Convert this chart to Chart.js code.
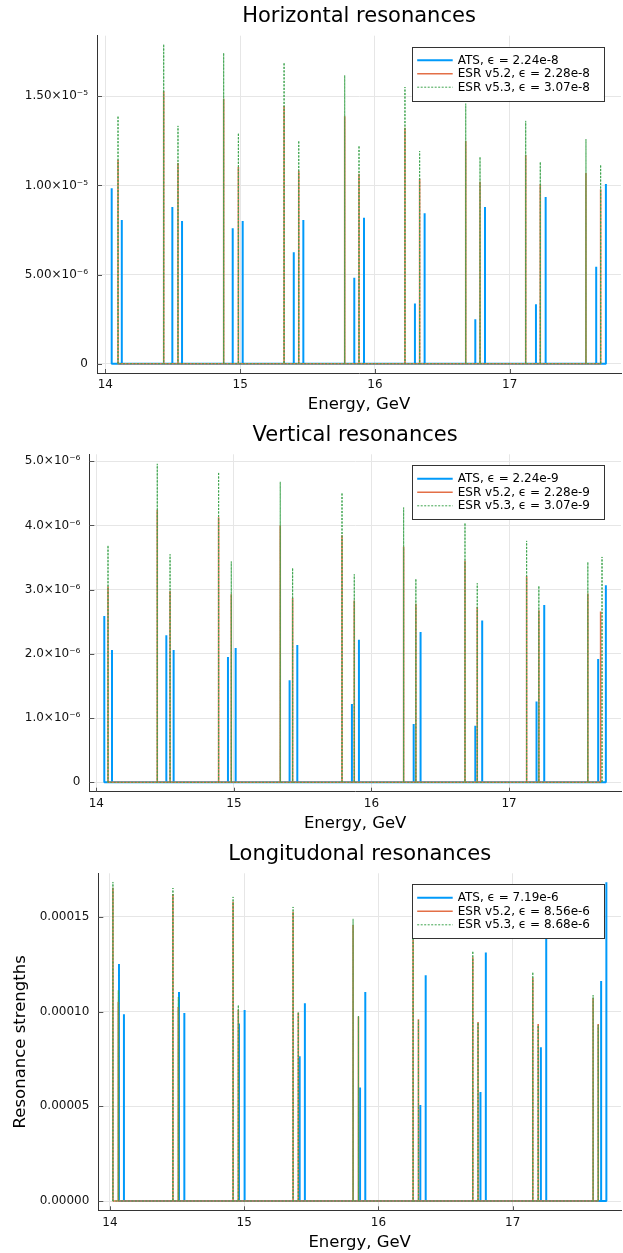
<!DOCTYPE html>
<html><head><meta charset="utf-8">
<script src="https://cdn.jsdelivr.net/npm/chart.js@4.4.0/dist/chart.umd.min.js"></script>
<style>html,body{margin:0;padding:0;background:#fff}canvas{display:block}</style>
</head><body>
<canvas id="c1" width="623" height="418" style="width:623px;height:418px"></canvas>
<canvas id="c2" width="623" height="418" style="width:623px;height:418px"></canvas>
<canvas id="c3" width="623" height="417" style="width:623px;height:417px"></canvas>
<script>
// ---------- data ----------
const X_TICKS = [14, 15, 16, 17];
const X_LABELS = ['14', '15', '16', '17'];

// Horizontal resonances
const H_ATS_E = [14.047,14.122,14.497,14.569,14.945,15.019,15.398,15.469,15.847,15.919,16.297,16.369,16.745,16.817,17.195,17.267,17.642,17.714];
const H_ATS = [9.84e-6,8.06e-6,8.79e-6,8.00e-6,7.60e-6,8.00e-6,6.25e-6,8.06e-6,4.82e-6,8.19e-6,3.37e-6,8.44e-6,2.50e-6,8.79e-6,3.33e-6,9.35e-6,5.44e-6,1.008e-5];
const H_ESR52_E = [14.094,14.433,14.539,14.878,14.987,15.326,15.435,15.776,15.882,16.223,16.332,16.674,16.780,17.119,17.227,17.566,17.675];
const H_ESR52 = [1.143e-5,1.528e-5,1.126e-5,1.487e-5,1.104e-5,1.446e-5,1.081e-5,1.388e-5,1.066e-5,1.324e-5,1.038e-5,1.249e-5,1.021e-5,1.171e-5,1.006e-5,1.070e-5,9.78e-6];
const H_ESR53_E = [14.094,14.433,14.539,14.878,14.987,15.326,15.435,15.776,15.882,16.223,16.332,16.674,16.780,17.119,17.227,17.566,17.675];
const H_ESR53 = [1.390e-5,1.792e-5,1.334e-5,1.743e-5,1.294e-5,1.689e-5,1.251e-5,1.618e-5,1.223e-5,1.552e-5,1.193e-5,1.459e-5,1.160e-5,1.362e-5,1.132e-5,1.260e-5,1.116e-5];
const H_LABELS = ['ATS, ϵ = 2.24e-8', 'ESR v5.2, ϵ = 2.28e-8', 'ESR v5.3, ϵ = 3.07e-8'];
const H_YTICKS = [0, 5e-6, 1e-5, 1.5e-5];
const H_YLABELS = ['0', '5.00×10⁻⁶', '1.00×10⁻⁵', '1.50×10⁻⁵'];

// Vertical resonances
const V_ATS_E = [14.058,14.114,14.509,14.562,14.957,15.013,15.405,15.461,15.858,15.909,16.307,16.357,16.755,16.805,17.200,17.256,17.648,17.704];
const V_ATS = [2.59e-6,2.06e-6,2.29e-6,2.06e-6,1.95e-6,2.09e-6,1.59e-6,2.14e-6,1.22e-6,2.22e-6,0.91e-6,2.34e-6,0.88e-6,2.52e-6,1.26e-6,2.76e-6,1.92e-6,3.07e-6];
const V_ESR52_E = [14.085,14.443,14.536,14.889,14.981,15.337,15.427,15.786,15.875,16.234,16.323,16.680,16.769,17.128,17.217,17.573,17.666];
const V_ESR52 = [3.05e-6,4.24e-6,2.98e-6,4.13e-6,2.93e-6,4.00e-6,2.87e-6,3.85e-6,2.83e-6,3.67e-6,2.78e-6,3.45e-6,2.73e-6,3.21e-6,2.68e-6,2.94e-6,2.66e-6];
const V_ESR53_E = [14.085,14.443,14.536,14.889,14.981,15.337,15.427,15.786,15.875,16.234,16.323,16.680,16.769,17.128,17.217,17.573,17.676];
const V_ESR53 = [3.69e-6,4.96e-6,3.55e-6,4.83e-6,3.44e-6,4.68e-6,3.34e-6,4.51e-6,3.24e-6,4.28e-6,3.17e-6,4.04e-6,3.10e-6,3.76e-6,3.06e-6,3.43e-6,3.51e-6];
const V_LABELS = ['ATS, ϵ = 2.24e-9', 'ESR v5.2, ϵ = 2.28e-9', 'ESR v5.3, ϵ = 3.07e-9'];
const V_YTICKS = [0, 1e-6, 2e-6, 3e-6, 4e-6, 5e-6];
const V_YLABELS = ['0', '1.0×10⁻⁶', '2.0×10⁻⁶', '3.0×10⁻⁶', '4.0×10⁻⁶', '5.0×10⁻⁶'];

// Longitudinal resonances
const L_ATS_E = [14.067,14.104,14.514,14.554,14.961,15.003,15.413,15.452,15.863,15.902,16.312,16.352,16.760,16.800,17.210,17.250,17.659,17.698];
const L_ATS = [1.252e-4,9.86e-5,1.104e-4,9.93e-5,9.38e-5,1.009e-4,7.64e-5,1.044e-4,6.00e-5,1.104e-4,5.07e-5,1.192e-4,5.76e-5,1.313e-4,8.12e-5,1.47e-4,1.162e-4,1.683e-4];
const L_ESR52_E = [14.022,14.062,14.469,14.509,14.917,14.956,15.364,15.403,15.811,15.851,16.258,16.298,16.703,16.742,17.150,17.190,17.599,17.637];
const L_ESR52 = [1.655e-4,1.053e-4,1.622e-4,1.025e-4,1.581e-4,1.010e-4,1.528e-4,9.95e-5,1.458e-4,9.75e-5,1.380e-4,9.60e-5,1.287e-4,9.45e-5,1.179e-4,9.35e-5,1.072e-4,9.35e-5];
const L_ESR53_E = [14.022,14.062,14.469,14.509,14.917,14.956,15.364,15.403,15.811,15.851,16.258,16.298,16.703,16.742,17.150,17.190,17.599,17.637];
const L_ESR53 = [1.685e-4,1.113e-4,1.653e-4,1.077e-4,1.606e-4,1.035e-4,1.553e-4,9.98e-5,1.490e-4,9.77e-5,1.410e-4,9.55e-5,1.320e-4,9.42e-5,1.209e-4,9.27e-5,1.088e-4,9.30e-5];
const L_LABELS = ['ATS, ϵ = 7.19e-6', 'ESR v5.2, ϵ = 8.56e-6', 'ESR v5.3, ϵ = 8.68e-6'];
const L_YTICKS = [0, 5e-5, 1e-4, 1.5e-4];
const L_YLABELS = ['0.00000', '0.00005', '0.00010', '0.00015'];

// ---------- styling ----------
const FONT = "'DejaVu Sans', sans-serif";
Chart.defaults.font.family = FONT;
const BLUE = '#009AFA', ORANGE = '#E36F47', GREEN = '#3EA44E';
const GRID = '#e6e6e6', AXIS = '#333333', TXT = '#111111';

function spikes(E, V) {
  const pts = [];
  E.forEach((e, i) => { pts.push({x: e, y: 0}, {x: e, y: V[i]}, {x: e, y: 0}); });
  return pts;
}

const deco = {
  id: 'deco',
  beforeDatasetsDraw(chart) {
    const {ctx, chartArea: a, scales: {x, y}} = chart;
    ctx.save();
    ctx.strokeStyle = '#555'; ctx.lineWidth = 1;
    x.ticks.forEach(t => {
      const px = Math.round(x.getPixelForValue(t.value)) + 0.5;
      ctx.beginPath(); ctx.moveTo(px, a.bottom); ctx.lineTo(px, a.bottom - 4); ctx.stroke();
    });
    y.ticks.forEach(t => {
      const py = Math.round(y.getPixelForValue(t.value)) + 0.5;
      ctx.beginPath(); ctx.moveTo(a.left, py); ctx.lineTo(a.left + 5, py); ctx.stroke();
    });
    ctx.restore();
  },
  afterDraw(chart, args, opts) {
    const {ctx, chartArea: a} = chart;
    ctx.save();
    // title
    ctx.fillStyle = '#000';
    ctx.font = '21px ' + FONT;
    ctx.textAlign = 'center'; ctx.textBaseline = 'alphabetic';
    ctx.fillText(opts.title, (a.left + a.right) / 2, opts.titleY);
    // legend
    const w = 192, h = 54;
    const bx = a.right - 17.3 - w, by = a.top + 11;
    ctx.fillStyle = '#fff';
    ctx.fillRect(bx, by, w, h);
    ctx.strokeStyle = AXIS; ctx.lineWidth = 1;
    ctx.strokeRect(Math.round(bx) + 0.5, Math.round(by) + 0.5, w, h);
    ctx.font = '12px ' + FONT;
    ctx.textAlign = 'left'; ctx.textBaseline = 'middle';
    chart.data.datasets.forEach((ds, i) => {
      const yy = by + 13.5 + i * 13.5;
      ctx.save();
      ctx.strokeStyle = ds.borderColor;
      ctx.lineWidth = ds.borderWidth;
      ctx.setLineDash(ds.borderDash || []);
      ctx.beginPath(); ctx.moveTo(bx + 5.5, yy); ctx.lineTo(bx + 41, yy); ctx.stroke();
      ctx.restore();
      ctx.fillStyle = '#000';
      ctx.fillText(ds.label, bx + 46, yy + 0.5);
    });
    ctx.restore();
  }
};

function makePanel(id, p) {
  const canvas = document.getElementById(id);
  const H = canvas.height;
  new Chart(canvas, {
    type: 'scatter',
    data: {
      datasets: [
        {label: p.labels[0], data: spikes(p.e0, p.v0), borderColor: BLUE, backgroundColor: BLUE, borderWidth: 2, order: 3},
        {label: p.labels[1], data: spikes(p.e1, p.v1), borderColor: ORANGE, backgroundColor: ORANGE, borderWidth: 1.6, order: 2},
        {label: p.labels[2], data: spikes(p.e2, p.v2), borderColor: GREEN, backgroundColor: GREEN, borderWidth: 1, borderDash: [2, 1.5], order: 1}
      ].map(d => Object.assign(d, {showLine: true, pointRadius: 0, pointHoverRadius: 0, tension: 0, borderJoinStyle: 'bevel', borderCapStyle: 'butt'}))
    },
    options: {
      responsive: false, animation: false, events: [],
      layout: {padding: {top: p.top, right: 2, left: 0, bottom: 0}},
      plugins: {
        legend: {display: false}, title: {display: false}, tooltip: {enabled: false},
        deco: {title: p.title, titleY: p.titleY}
      },
      scales: {
        x: {
          type: 'linear', min: p.xmin, max: p.xmax,
          afterBuildTicks: s => { s.ticks = X_TICKS.map(v => ({value: v})); },
          afterFit: s => { s.height = H - p.bottom; },
          ticks: {callback: (v, i) => X_LABELS[i], font: {size: 12}, color: TXT, padding: 5, maxRotation: 0, autoSkip: false},
          grid: {color: GRID, lineWidth: 1, drawTicks: false},
          border: {display: true, color: AXIS, width: 1},
          title: {display: true, text: 'Energy, GeV', color: '#000', font: {size: 16.5}, padding: {top: 0, bottom: p.xtPad}}
        },
        y: {
          type: 'linear', min: p.ymin, max: p.ymax,
          afterBuildTicks: s => { s.ticks = p.yticks.map(v => ({value: v})); },
          afterFit: s => { s.width = p.left; },
          ticks: {callback: (v, i) => p.ylabels[i], font: {size: 12}, color: TXT, padding: 9, autoSkip: false},
          grid: {color: GRID, lineWidth: 1, drawTicks: false},
          border: {display: true, color: AXIS, width: 1},
          title: {display: !!p.ytitle, text: p.ytitle || '', color: '#000', font: {size: 16.5}, padding: {top: 10.8, bottom: 0}}
        }
      }
    },
    plugins: [deco]
  });
}

makePanel('c1', {
  title: 'Horizontal resonances', titleY: 22.3, labels: H_LABELS,
  e0: H_ATS_E, v0: H_ATS, e1: H_ESR52_E, v1: H_ESR52, e2: H_ESR53_E, v2: H_ESR53,
  top: 35.7, bottom: 373, left: 97, xtPad: 3.6,
  xmin: 13.938, xmax: 17.826, ymin: -5.22e-7, ymax: 1.840e-5,
  yticks: H_YTICKS, ylabels: H_YLABELS
});
makePanel('c2', {
  title: 'Vertical resonances', titleY: 22.7, labels: V_LABELS,
  e0: V_ATS_E, v0: V_ATS, e1: V_ESR52_E, v1: V_ESR52, e2: V_ESR53_E, v2: V_ESR53,
  top: 36.3, bottom: 373.7, left: 89.3, xtPad: 2.1,
  xmin: 13.949, xmax: 17.814, ymin: -1.464e-7, ymax: 5.109e-6,
  yticks: V_YTICKS, ylabels: V_YLABELS
});
makePanel('c3', {
  title: 'Longitudonal resonances', titleY: 24, labels: L_LABELS,
  e0: L_ATS_E, v0: L_ATS, e1: L_ESR52_E, v1: L_ESR52, e2: L_ESR53_E, v2: L_ESR53,
  top: 37.3, bottom: 374.3, left: 98.3, xtPad: 0.6,
  xmin: 13.913, xmax: 17.807, ymin: -4.91e-6, ymax: 1.7308e-4,
  yticks: L_YTICKS, ylabels: L_YLABELS, ytitle: 'Resonance strengths'
});
</script>
</body></html>
